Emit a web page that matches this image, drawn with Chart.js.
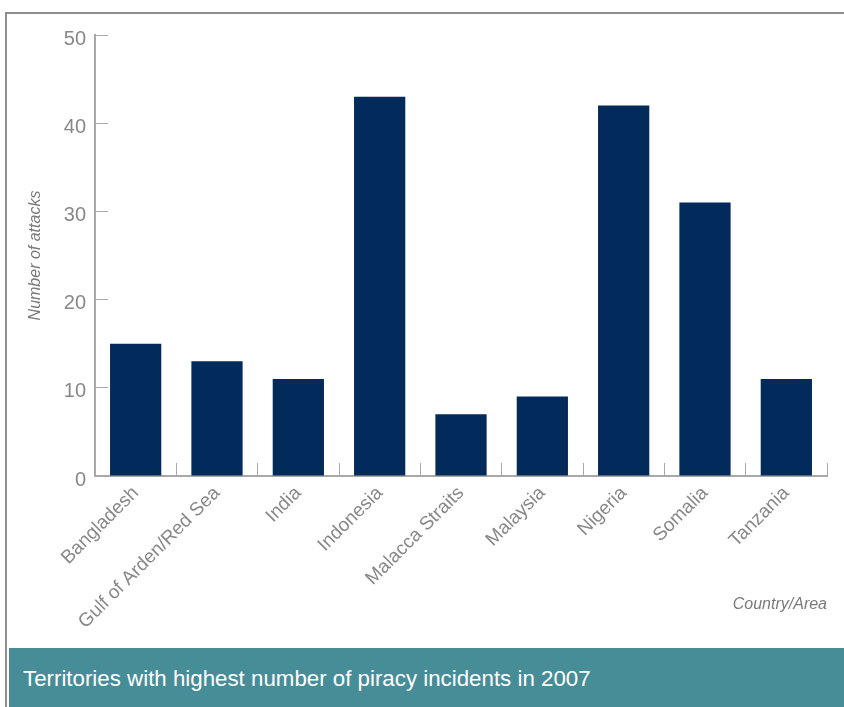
<!DOCTYPE html>
<html>
<head>
<meta charset="utf-8">
<script src="https://cdn.jsdelivr.net/npm/chart.js"></script>
<style>
body{margin:0;background:#fff;width:844px;height:707px;position:relative;overflow:hidden;font-family:"Liberation Sans",Arial,sans-serif}
#frameTop{position:absolute;left:5px;top:12px;right:0;height:2px;background:#8e8e8e}
#frameLeft{position:absolute;left:5px;top:12px;bottom:0;width:2px;background:#8e8e8e}
#caption{position:absolute;left:9px;right:0;top:648px;bottom:0;background:#468d98;color:#fff;font-size:22.3px;line-height:62px;padding-left:14px}
#wrap{position:absolute;left:0;top:0;width:844px;height:648px}
</style>
</head>
<body>
<div id="frameTop"></div>
<div id="frameLeft"></div>
<div id="wrap"><canvas id="piracyChart" width="844" height="648"></canvas></div>
<div id="caption">Territories with highest number of piracy incidents in 2007</div>
<script>
// data
var categories = ['Bangladesh', 'Gulf of Arden/Red Sea', 'India', 'Indonesia', 'Malacca Straits', 'Malaysia', 'Nigeria', 'Somalia', 'Tanzania'];
var attacks = [15, 13, 11, 43, 7, 9, 42, 31, 11];
var yMin = 0, yMax = 50, yStep = 10;

Chart.defaults.font.family = '"Liberation Sans", Arial, sans-serif';

var axisGray = '#a8a8a8';
var textGray = '#888888';

var ctx = document.getElementById('piracyChart');
var piracyChart = new Chart(ctx, {
    type: 'bar',
    data: {
        labels: categories,
        datasets: [{
            data: attacks,
            backgroundColor: '#022a5a',
            borderWidth: 0,
            barPercentage: 0.63,
            categoryPercentage: 1
        }]
    },
    options: {
        responsive: false,
        animation: false,
        layout: { padding: { top: 35, right: 17, left: 0, bottom: 0 } },
        plugins: {
            legend: { display: false },
            tooltip: { enabled: false }
        },
        scales: {
            x: {
                grid: { offset: true, drawOnChartArea: false, tickLength: -13, color: axisGray, lineWidth: 1 },
                border: { color: axisGray, width: 2 },
                ticks: { color: textGray, font: { size: 19 }, minRotation: 45, maxRotation: 45, padding: 19 },
                title: {
                    display: true, text: 'Country/Area', align: 'end', color: '#7a7a7a',
                    font: { size: 16, style: 'italic' }, padding: { top: 0, bottom: 34 }
                },
                afterFit: function (s) { s.height = 172; }
            },
            y: {
                min: yMin, max: yMax,
                grid: { drawOnChartArea: false, tickLength: -13, color: axisGray, lineWidth: 1 },
                border: { color: axisGray, width: 2 },
                ticks: { stepSize: yStep, color: textGray, font: { size: 20 }, padding: 22, labelOffset: 4 },
                title: {
                    display: true, text: 'Number of attacks', color: '#7a7a7a',
                    font: { size: 16, style: 'italic' }, padding: { top: 26, bottom: 0 }
                },
                afterFit: function (s) { s.width = 95; }
            }
        }
    }
});
</script>
</body>
</html>
